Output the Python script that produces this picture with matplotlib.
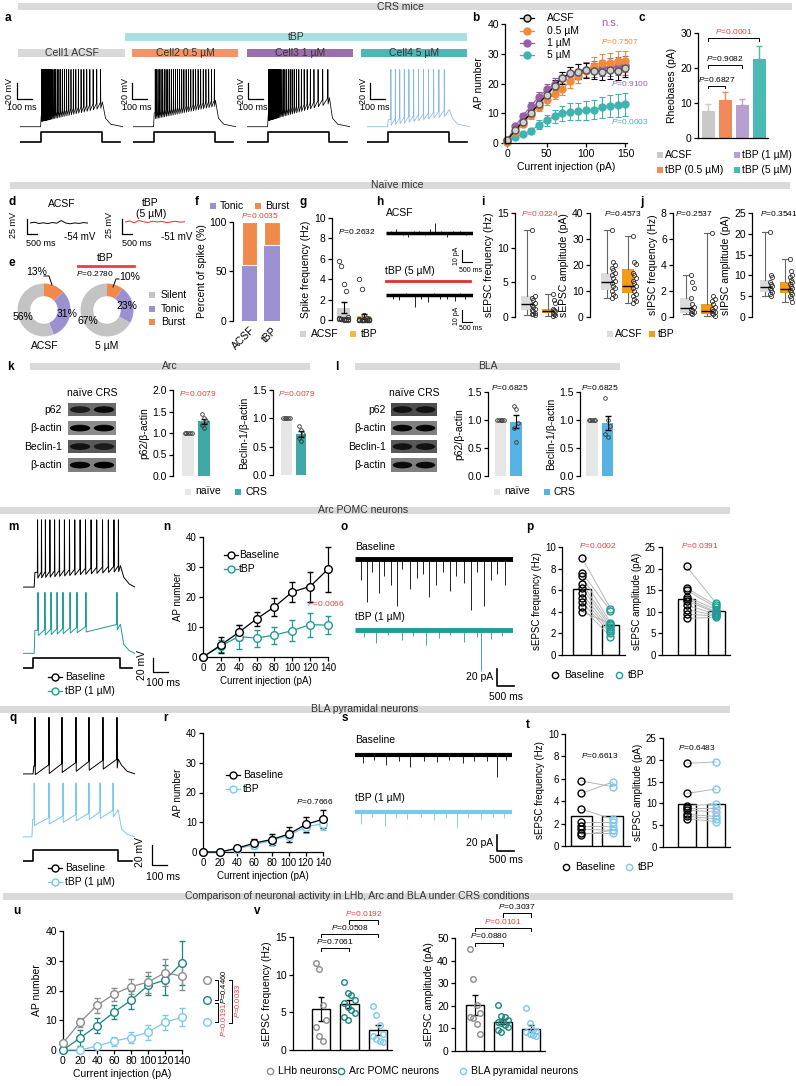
import numpy as np
import matplotlib
matplotlib.use('Agg')
import matplotlib.pyplot as plt
from matplotlib.patches import Rectangle, Ellipse

plt.rcParams['font.family'] = ['Liberation Sans', 'DejaVu Sans']
plt.rcParams['font.size'] = 7
plt.rcParams['mathtext.fontset'] = 'custom'
plt.rcParams['mathtext.rm'] = 'Liberation Sans'
plt.rcParams['mathtext.it'] = 'Liberation Sans:italic'
plt.rcParams['mathtext.bf'] = 'Liberation Sans:bold'
plt.rcParams['axes.linewidth'] = 0.9
plt.rcParams['axes.spines.top'] = False
plt.rcParams['axes.spines.right'] = False
for k in ['xtick', 'ytick']:
    plt.rcParams[k + '.major.size'] = 3
    plt.rcParams[k + '.major.width'] = 0.9
    plt.rcParams[k + '.major.pad'] = 1.5
plt.rcParams['axes.labelpad'] = 2

RED = '#e8403f'
ARC = '#1f9c96'
BLA = '#79c9ec'
LHB = '#8c8c8c'
NAIVE = '#e6e6e6'

# ---- a: example firing (spike times in ms, step 200-800 ms)
a_labels = ['Cell1 ACSF', 'Cell2 0.5 µM', 'Cell3 1 µM', 'Cell4 5 µM']
a_spikes = [
    [210, 217, 224, 231, 238, 245, 253, 261, 269, 278, 287, 297, 308, 320, 333, 347, 362, 378, 395,
     413, 432, 452, 473, 495, 518, 542, 567, 593, 620, 648, 678, 710, 745, 782],
    [216, 229, 243, 257, 272, 288, 304, 321, 338, 356, 374, 393, 412, 432, 452, 473, 494, 516, 538,
     561, 584, 608, 632, 657, 682, 708, 735, 762, 790],
    [210, 215, 220, 226, 232, 238, 245, 252, 259, 267, 275, 284, 293, 303, 314, 326, 339, 353, 368,
     384, 401, 419, 438, 458, 480, 503, 528, 555, 584, 615, 650, 690, 735, 785],
    [232, 275, 318, 362, 407, 453, 500, 548, 597, 647, 698, 750],
]
a_plateau = [(-54, -38), (-51, -36), (-53, -33), (-59, -47)]

# ---- b: input-output curves
b_current = [0, 10, 20, 30, 40, 50, 60, 70, 80, 90, 100, 110, 120, 130, 140, 150]
b_acsf = [1.0, 4.3, 7.2, 10.0, 13.2, 16.2, 19.2, 22.0, 23.5, 24.0, 24.5, 24.2, 24.0, 24.5, 24.2, 25.3]
b_acsf_err = [0.3, 0.8, 1.0, 1.2, 1.5, 1.8, 2.0, 2.0, 2.2, 2.5, 2.5, 2.6, 2.8, 3.0, 3.0, 3.0]
b_05 = [0.5, 3.6, 6.5, 9.4, 12.2, 14.5, 16.5, 18.2, 20.8, 22.5, 24.3, 26.0, 27.0, 27.0, 27.5, 27.5]
b_05_err = [0.3, 0.8, 1.0, 1.2, 1.5, 1.6, 1.8, 2.0, 2.2, 2.4, 2.6, 2.8, 3.0, 3.2, 3.4, 3.5]
b_1 = [1.0, 5.6, 9.2, 12.5, 15.5, 18.0, 19.8, 22.0, 23.2, 24.0, 24.6, 24.8, 25.2, 25.6, 25.8, 26.2]
b_1_err = [0.3, 0.8, 1.0, 1.3, 1.5, 1.7, 1.9, 2.0, 2.2, 2.4, 2.5, 2.7, 2.8, 3.0, 3.1, 3.2]
b_5 = [0.5, 2.0, 3.0, 4.0, 6.2, 7.6, 9.0, 10.0, 10.5, 10.6, 11.0, 11.2, 12.0, 12.5, 12.7, 13.0]
b_5_err = [0.3, 0.5, 0.8, 1.0, 1.4, 1.8, 2.2, 2.6, 2.8, 3.0, 3.2, 3.3, 3.5, 3.6, 3.8, 3.9]

# ---- c: rheobase
c_groups = ['ACSF', 'tBP (0.5 µM)', 'tBP (1 µM)', 'tBP (5 µM)']
c_mean = [7.8, 10.8, 9.5, 22.5]
c_err = [1.9, 2.3, 1.7, 3.7]

# ---- d: resting potential traces (mV)
d_acsf_v = [-54.0, -53.2, -54.5, -53.8, -54.6, -53.5, -54.2, -51.5, -54.0, -54.8, -53.9, -54.4, -53.6, -54.1]
d_tbp_v = [-51.0, -50.0, -51.8, -49.5, -50.8, -51.5, -50.2, -51.0, -50.4, -51.6, -50.9, -50.3, -51.2, -50.7]

# ---- e / f: firing pattern
e_types = ['Burst', 'Tonic', 'Silent']
e_acsf = [13, 31, 56]
e_tbp = [10, 23, 67]
f_tonic = [57, 77]
f_burst = [43, 23]

# ---- g: spontaneous spike frequency (Hz)
g_acsf = [5.8, 5.3, 3.5, 2.8, 0.3, 0.2, 0.1, 0.1, 0.1, 0.05, 0.05, 0.05, 0.0, 0.0, 0.0]
g_tbp = [4.0, 3.0, 0.5, 0.2, 0.1, 0.05, 0, 0, 0, 0, 0, 0, 0, 0, 0, 0, 0, 0, 0, 0, 0, 0]

# ---- h / o / s: current traces, event time (0-1000) and amplitude (pA)
h_acsf_t = [60, 120, 190, 250, 320, 380, 450, 500, 560, 630, 700, 770, 850, 920]
h_acsf_a = [2, 3, -2, -3, 2, 2, -2, 3, 8, 2, -3, 2, 2, -2]
h_tbp_t = [80, 150, 230, 330, 400, 480, 550, 620, 700, 790, 850, 910]
h_tbp_a = [-3, -4, 2, -10, -3, -6, 2, -3, -3, -5, 2, -3]
o_base_t = [40, 75, 110, 150, 185, 230, 265, 300, 345, 390, 430, 470, 510, 560, 600, 640, 690, 735, 770, 815, 860, 900, 950]
o_base_a = [-25, -50, -15, -40, -20, -30, -55, -12, -35, -22, -18, -45, -30, -15, -38, -20, -28, -60, -15, -55, -25, -18, -30]
o_tbp_t = [60, 130, 210, 300, 370, 450, 530, 600, 690, 770, 797, 860, 930]
o_tbp_a = [-8, -15, -6, -12, -7, -18, -9, -6, -14, -8, -48, -10, -7]
s_base_t = [50, 120, 200, 280, 350, 440, 520, 600, 690, 760, 840, 904, 960]
s_base_a = [-10, -6, -12, -7, -15, -8, -9, -6, -10, -7, -8, -28, -6]
s_tbp_t = [40, 110, 190, 260, 330, 420, 500, 580, 650, 720, 800, 880, 950]
s_tbp_a = [-15, -6, -18, -7, -9, -6, -10, -8, -20, -7, -9, -6, -8]

# ---- i / j: box plots [median, q1, q3, min, max]
i_freq_stats = [[1.9, 1.0, 3.0, 0.3, 12.5], [0.9, 0.6, 1.2, 0.2, 3.3]]
i_freq_pts = [[12.5, 5.8, 3.0, 2.8, 2.5, 2.0, 1.8, 1.5, 1.2, 1.0, 0.8, 0.6, 0.5, 0.4, 0.3],
              [3.3, 2.5, 2.0, 1.2, 1.0, 0.8, 0.6, 0.5, 0.3, 0.2]]
i_amp_stats = [[13.5, 10.5, 17.0, 7.5, 33.5], [12.0, 9.2, 18.5, 5.5, 31.0]]
i_amp_pts = [[33.5, 21, 20, 19, 18, 17, 16, 15, 14, 13, 12, 11, 10, 9, 8, 7.5],
             [31, 21, 20.5, 17, 16, 15, 14, 13, 12, 11, 10, 9, 8, 7, 6, 5.5]]
j_freq_stats = [[0.7, 0.3, 1.5, 0.2, 3.2], [0.5, 0.2, 1.0, 0.1, 6.5]]
j_freq_pts = [[3.2, 2.7, 2.2, 1.5, 1.0, 0.8, 0.6, 0.5, 0.4, 0.3, 0.2],
              [6.5, 1.6, 1.4, 1.2, 1.0, 0.8, 0.6, 0.5, 0.4, 0.3, 0.2, 0.1]]
j_amp_stats = [[7.3, 6.0, 9.0, 5.0, 20.5], [6.8, 5.8, 8.5, 3.5, 14.0]]
j_amp_pts = [[20.5, 10, 9.5, 8.5, 8, 7.5, 7, 6.5, 6, 5.5, 5],
             [14, 11, 10, 9.5, 9, 8.5, 8, 7.5, 7, 6.5, 6, 5.5, 5, 4.5, 3.5]]

# ---- k / l: western blots
blot_rows = ['p62', 'β-actin', 'Beclin-1', 'β-actin']
k_bands = [[0.75, 0.9], [0.95, 0.95], [0.85, 0.75], [0.95, 1.0]]
k_bg = [0.42, 0.55, 0.35, 0.5]
l_bands = [[0.85, 0.85], [0.95, 0.95], [0.85, 0.85], [0.9, 0.9]]
l_bg = [0.3, 0.5, 0.35, 0.5]
k_p62 = [[1.0] * 5, [1.45, 1.35, 1.28, 1.18, 1.12]]
k_beclin = [[1.0] * 5, [0.86, 0.80, 0.72, 0.65, 0.60]]
l_p62 = [[1.0] * 5, [1.25, 1.2, 0.95, 0.85, 0.6]]
l_beclin = [[1.0] * 5, [1.4, 1.0, 0.9, 0.75, 0.7]]

# ---- m / n: Arc POMC neurons
m_base_spikes = [130, 165, 200, 240, 282, 325, 370, 415, 462, 510, 558, 608, 658, 710, 762, 812, 852]
m_tbp_spikes = [134, 196, 250, 304, 357, 420, 482, 562, 839]
iv_current = [0, 20, 40, 60, 80, 100, 120, 140]
n_base = [0, 4.0, 8.2, 12.7, 16.7, 21.7, 23.5, 29.3]
n_base_err = [0, 2.8, 2.5, 2.3, 3.0, 3.3, 5.0, 7.5]
n_tbp = [0, 3.7, 6.8, 6.3, 7.3, 8.8, 10.8, 10.6]
n_tbp_err = [0, 2.0, 4.0, 2.8, 2.8, 3.5, 4.0, 3.0]

# ---- p: Arc sEPSC paired
p_freq_base = [9.0, 7.6, 7.3, 6.6, 6.2, 5.7, 5.3, 4.9, 4.4, 4.0]
p_freq_tbp = [4.3, 4.1, 3.0, 2.8, 2.6, 2.4, 2.2, 2.0, 1.7, 2.9]
p_amp_base = [20.5, 15.5, 15.0, 13.5, 13.0, 12.5, 11.5, 10.5, 9.5, 8.5]
p_amp_tbp = [12.0, 11.5, 11.0, 10.5, 10.0, 9.8, 9.5, 9.2, 9.0, 8.7]

# ---- q / r / t: BLA pyramidal neurons
q_base_spikes = [107, 232, 348, 473, 589, 714, 839]
q_tbp_spikes = [100, 232, 357, 473, 589, 688, 804]
r_base = [0, 0, 1.3, 3.0, 4.2, 6.0, 9.3, 11.0]
r_base_err = [0, 0, 0.6, 1.5, 2.0, 2.5, 2.5, 3.0]
r_tbp = [0, 0, 1.0, 2.5, 3.8, 5.5, 8.5, 9.5]
r_tbp_err = [0, 0, 0.5, 1.2, 1.5, 2.0, 2.0, 2.0]
t_freq_base = [5.8, 4.7, 3.3, 2.1, 1.8, 1.5, 1.2, 1.0]
t_freq_tbp = [5.3, 5.7, 2.4, 2.1, 1.8, 1.4, 1.2, 1.4]
t_amp_base = [19.2, 12.3, 9.5, 9.0, 8.5, 7.5, 7.0, 6.5]
t_amp_tbp = [19.5, 13.3, 9.8, 9.0, 8.0, 7.0, 6.5, 5.8]

# ---- u / v: comparison
u_lhb = [2.3, 9.3, 15.0, 18.8, 21.3, 22.8, 26.0, 24.8]
u_lhb_err = [0.5, 1.5, 2.5, 2.2, 2.5, 3.5, 4.5, 4.5]
v_lhb_freq = [11.5, 10.8, 6.0, 4.0, 3.0, 1.8, 1.2]
v_lhb_amp = [45, 32, 20.5, 17, 15, 14.5, 12, 7.5]

W, H = 796, 1086
fig = plt.figure(figsize=(W / 100, H / 100), dpi=100)


def px_axes(x0, y0, x1, y1):
    ax = fig.add_axes([x0 / W, 1 - y1 / H, (x1 - x0) / W, (y1 - y0) / H])
    ax.patch.set_alpha(0)
    return ax


ov = px_axes(0, 0, W, H)
ov.set_xlim(0, W)
ov.set_ylim(H, 0)
ov.axis('off')
ov.set_zorder(10)


def txt(x, y, s, **kw):
    kw.setdefault('ha', 'center')
    kw.setdefault('va', 'center')
    ov.text(x, y, s, **kw)


def pval(ax, x, y, s, color='k', fs=6, **kw):
    kw.setdefault('ha', 'center')
    kw.setdefault('va', 'center')
    ax.text(x, y, r'$P$=' + s, color=color, fontsize=fs, **kw)


def square(x, y, color, size=5.5):
    ov.add_patch(Rectangle((x - size / 2, y - size / 2), size, size, color=color, lw=0))


def circle(x, y, color, ms=4.5):
    ov.plot([x], [y], 'o', mfc='none', mec=color, ms=ms, mew=1)


def line_marker(x, y, color, fill='white'):
    ov.plot([x - 7, x + 7], [y, y], color=color, lw=0.9)
    ov.plot([x], [y], 'o', mfc=fill, mec=color, ms=5, mew=1)


def trace_axes(x0, y0, x1, y1, ylim):
    ax = px_axes(x0, y0, x1, y1)
    ax.set_xlim(0, 1000)
    ax.set_ylim(*ylim)
    ax.axis('off')
    return ax


def spike_trace(spikes, rest, plat, ahp, t_on, t_off, t_end=1000, peak=0):
    t = [0, t_on, t_on + 6]
    v = [rest, rest, plat[0]]
    for s in spikes:
        base = plat[0] + (plat[1] - plat[0]) * (s - t_on) / (t_off - t_on)
        t += [s - 1.5, s, s + 2.5]
        v += [base, peak, base - ahp]
    t += [t_off, t_off + 30, t_off + 80, t_end]
    v += [plat[1], rest + 10, rest + 3, rest]
    return t, v


def stim(x0, y0, x1, y1, t_on, t_off, t_end=970):
    ax = trace_axes(x0, y0, x1, y1, (-0.25, 1.15))
    ax.plot([0, t_on, t_on, t_off, t_off, t_end], [0, 0, 1, 1, 0, 0], 'k', lw=1.2)


def noise(x0, x1, yc, px_per, ev_t, ev_a, color, lw=3.5, up=8, down=62):
    ax = px_axes(x0, yc - up, x1, yc + down)
    ax.set_xlim(0, 1000)
    ax.set_ylim(-down / px_per, up / px_per)
    ax.axis('off')
    ax.plot([0, 1000], [0, 0], color=color, lw=lw, solid_capstyle='butt')
    ax.vlines(ev_t, 0, ev_a, color=color, lw=0.6)


def scalebar(x, y_top, y_bot, x_end, lw=0.9):
    ov.plot([x, x, x_end], [y_top, y_bot, y_bot], 'k', lw=lw)


def bracket(ax, x1, x2, y, h, label, color='k', fs=6):
    ax.plot([x1, x1, x2, x2], [y - h, y, y, y - h], color='k', lw=0.7, clip_on=False)
    pval(ax, (x1 + x2) / 2, y + h * 0.6, label, color=color, fs=fs, va='bottom')


def hide_bottom(ax):
    ax.spines['bottom'].set_visible(False)
    ax.tick_params(axis='x', length=0)
    ax.set_xticks([])


# ---------------- section headers ----------------
headers = [('CRS mice', 18, 792, 6.5, 400), ('Naïve mice', 10, 790, 185.5, 397),
           ('Arc', 30, 310, 366, 170), ('BLA', 355, 620, 366, 488),
           ('Arc POMC neurons', 0, 730, 510, 363), ('BLA pyramidal neurons', 0, 730, 709, 365),
           ('Comparison of neuronal activity in LHb, Arc and BLA under CRS conditions', 3, 733, 896, 357)]
for name, x0, x1, yc, xt in headers:
    ov.add_patch(Rectangle((x0, yc - 3.5), x1 - x0, 7, color='#dadada', lw=0))
    txt(xt, yc, name, fontsize=7.5, color='#333333')

for lab, x, y in [('a', 8, 18), ('b', 476, 18), ('c', 642, 18), ('d', 12, 202), ('e', 12, 263),
                  ('f', 197, 202), ('g', 303, 202), ('h', 380, 202), ('i', 483, 202), ('j', 642, 202),
                  ('k', 10, 367), ('l', 337, 367), ('m', 13, 527), ('n', 167, 527), ('o', 344, 527),
                  ('p', 530, 527), ('q', 13, 718), ('r', 165, 718), ('s', 345, 718), ('t', 528, 725),
                  ('u', 17, 911), ('v', 257, 911)]:
    txt(x, y, lab, fontsize=8.5, fontweight='bold')

# ---------------- a ----------------
ov.add_patch(Rectangle((125, 33), 342, 8, color='#a8dfe0', lw=0))
txt(296, 37, 'tBP', fontsize=7.5, color='#333333')
a_bar_x = [(18, 125), (132, 238), (247, 353), (361, 467)]
a_bar_c = ['#d9d9d9', '#f0956a', '#9b70aa', '#50b6b6']
a_trace_c = ['k', 'k', 'k', '#86b8e6']
a_trace_x = [20, 133, 247, 367]
a_scale_x = [17, 132, 248, 370]
for i in range(4):
    x0, x1 = a_bar_x[i]
    ov.add_patch(Rectangle((x0, 49), x1 - x0, 8, color=a_bar_c[i], lw=0))
    txt((x0 + x1) / 2, 53, a_labels[i], fontsize=7.5, color='#333333')
    tx = a_trace_x[i]
    ax = trace_axes(tx, 66, tx + 103, 131, (-72, 4))
    t, v = spike_trace(a_spikes[i], -67, a_plateau[i], 7, 200, 800)
    ax.plot(t, v, color=a_trace_c[i], lw=0.55)
    stim(tx, 131, tx + 103, 145, 200, 800)
    sx = a_scale_x[i]
    scalebar(sx, 83, 99, sx + 15)
    txt(sx - 7, 91, '20 mV', rotation=90, fontsize=6.5)
    txt(sx + 5, 108, '100 ms', fontsize=6.5)

# ---------------- b ----------------
ax = px_axes(505, 24, 627, 143)
b_series = [(b_5, b_5_err, '#3fb3ad', '#3fb3ad'), (b_1, b_1_err, '#9a5fa6', '#9a5fa6'),
            (b_05, b_05_err, '#f08a3c', '#f08a3c'), (b_acsf, b_acsf_err, 'k', '#d0d0d0')]
for y, e, c, fc in b_series:
    ax.errorbar(b_current, y, yerr=e, color=c, marker='o', ms=5, mfc=fc, mec=c if c != 'k' else '#555555',
                lw=0.9, capsize=2, elinewidth=0.8, capthick=0.8, clip_on=False)
ax.set_xlim(-3, 152)
ax.set_ylim(0, 40)
ax.set_xticks([0, 50, 100, 150])
ax.set_yticks([0, 10, 20, 30, 40])
ax.tick_params(labelsize=7.5)
ax.set_xlabel('Current injection (pA)', fontsize=7.5)
ax.set_ylabel('AP number', fontsize=7.5)
for lab, y, c, fc in [('ACSF', 18, 'k', '#d0d0d0'), ('0.5 µM', 31, '#f08a3c', '#f08a3c'),
                      ('1 µM', 43, '#9a5fa6', '#9a5fa6'), ('5 µM', 55, '#3fb3ad', '#3fb3ad')]:
    line_marker(527, y, c, fc)
    txt(547, y, lab, fontsize=7.5, ha='left')
txt(610, 23, 'n.s.', fontsize=8, color='#9a5fa6')
pval(ov, 620, 41, '0.7507', color='#f08a3c')
pval(ov, 630, 83, '0.9100', color='#9a5fa6')
pval(ov, 630, 122, '0.0003', color='#3fb3ad')

# ---------------- c ----------------
ax = px_axes(698, 33, 768, 138)
c_colors = ['#c9c9c9', '#f08a5a', '#b79fd0', '#4bbab5']
ax.bar(range(4), c_mean, width=0.75, color=c_colors)
for i in range(4):
    ax.errorbar([i], [c_mean[i]], yerr=[[0], [c_err[i]]], color=c_colors[i], capsize=2.5, lw=1, capthick=1)
ax.set_xlim(-0.6, 3.5)
ax.set_ylim(0, 30)
ax.set_yticks([0, 10, 20, 30])
ax.set_xticks([])
ax.tick_params(labelsize=7.5)
ax.set_ylabel('Rheobases (pA)', fontsize=7.5)
bracket(ax, 0, 1, 15.0, 0.8, '0.6827')
bracket(ax, 0, 2, 20.9, 0.8, '0.9082')
bracket(ax, 0, 3, 28.6, 0.8, '0.0001', color=RED)
for lab, x, y, c in [(c_groups[0], 660, 155, c_colors[0]), (c_groups[2], 737, 155, c_colors[2]),
                     (c_groups[1], 660, 170, c_colors[1]), (c_groups[3], 737, 170, c_colors[3])]:
    square(x, y, c)
    txt(x + 5, y, lab, fontsize=7.5, ha='left')

# ---------------- d ----------------
txt(62, 204, 'ACSF', fontsize=7.5)
ax = px_axes(30, 216, 88, 230)
ax.plot(np.linspace(0, 1, len(d_acsf_v)), d_acsf_v, color='k', lw=0.7)
ax.set_xlim(0, 1); ax.set_ylim(-61, -47); ax.axis('off')
scalebar(27, 219, 234, 37)
txt(13, 225, '25 mV', rotation=90, fontsize=6.5)
txt(41, 243, '500 ms', fontsize=6.5)
txt(80, 237, '-54 mV', fontsize=7)
txt(150, 203, 'tBP', fontsize=7.5)
txt(151, 214, '(5 µM)', fontsize=7.5)
ax = px_axes(125, 215, 185, 229)
ax.plot(np.linspace(0, 1, len(d_tbp_v)), d_tbp_v, color='#e0302a', lw=0.7)
ax.set_xlim(0, 1); ax.set_ylim(-58, -44); ax.axis('off')
scalebar(122, 219, 234, 132)
txt(110, 225, '25 mV', rotation=90, fontsize=6.5)
txt(137, 243, '500 ms', fontsize=6.5)
txt(177, 237, '-51 mV', fontsize=7)

# ---------------- e ----------------
e_colors = ['#f08a4b', '#9c90d0', '#c3c3c3']
for vals, cx in [(e_acsf, 44), (e_tbp, 107)]:
    ax = px_axes(cx - 27, 283, cx + 27, 337)
    ax.pie(vals, colors=e_colors, startangle=90, counterclock=False, radius=1,
           wedgeprops=dict(width=0.48, edgecolor='none'))
    ax.set_xlim(-1.02, 1.02); ax.set_ylim(-1.02, 1.02)
txt(37, 272, '13%', fontsize=7.5)
ov.plot([44, 49, 52], [276, 276, 285], 'k', lw=0.7)
txt(130, 277, '10%', fontsize=7.5)
ov.plot([119, 116, 113], [279, 279, 287], 'k', lw=0.7)
txt(23, 317, '56%', fontsize=7.5)
txt(67, 314, '31%', fontsize=7.5)
txt(88, 321, '67%', fontsize=7.5)
txt(127, 306, '23%', fontsize=7.5)
txt(45, 346, 'ACSF', fontsize=7.5)
txt(107, 346, '5 µM', fontsize=7.5)
txt(105, 258, 'tBP', fontsize=7.5)
ov.plot([78, 134], [266, 266], color=RED, lw=2)
pval(ov, 95, 273, '0.2780')
for lab, y, c in zip(['Silent', 'Tonic', 'Burst'], [295, 309, 322], ['#c3c3c3', '#9c90d0', '#f08a4b']):
    square(152, y, c)
    txt(161, y, lab, fontsize=7.5, ha='left')

# ---------------- f ----------------
ax = px_axes(233, 222, 283, 321)
ax.bar([0, 1], f_tonic, width=0.67, color='#9c90d0')
ax.bar([0, 1], f_burst, bottom=f_tonic, width=0.67, color='#f08a4b', edgecolor='white', lw=0.8)
ax.set_xlim(-0.73, 1.49)
ax.set_ylim(0, 100)
ax.set_yticks([0, 50, 100])
ax.set_xticks([0, 1])
ax.set_xticklabels(['ACSF', 'tBP'], rotation=45, ha='right', rotation_mode='anchor', fontsize=7.5)
ax.spines['bottom'].set_visible(False)
ax.tick_params(axis='x', length=0, pad=3)
ax.tick_params(axis='y', labelsize=7.5)
ax.set_ylabel('Percent of spike (%)', fontsize=7.5)
square(213, 206, '#9c90d0')
txt(220, 206, 'Tonic', fontsize=7.5, ha='left')
square(258, 206, '#f08a4b')
txt(265, 206, 'Burst', fontsize=7.5, ha='left')
pval(ov, 260, 216, '0.0035', color=RED)

# ---------------- g ----------------
ax = px_axes(332, 218, 377, 320)
g_sets = [g_acsf, g_tbp]
means = [np.mean(v) for v in g_sets]
sems = [np.std(v, ddof=1) / np.sqrt(len(v)) for v in g_sets]
ax.bar([0, 1], means, width=0.65, color=['#d3d3d3', '#f5b843'])
ax.errorbar([0, 1], means, yerr=sems, fmt='none', ecolor='k', capsize=2, lw=0.8)
for i, v in enumerate(g_sets):
    xs = i + ((np.arange(len(v)) % 5) - 2) * 0.12
    ax.plot(xs, v, 'o', mfc='none', mec='#333333', ms=3.2, mew=0.6, clip_on=False)
ax.set_xlim(-0.56, 1.63)
ax.set_ylim(0, 10)
ax.set_yticks([0, 2, 4, 6, 8, 10])
ax.tick_params(labelsize=7.5)
hide_bottom(ax)
ax.set_ylabel('Spike frequency (Hz)', fontsize=7.5)
pval(ov, 357, 232, '0.2632')
square(303, 334, '#d3d3d3')
txt(311, 334, 'ACSF', fontsize=7.5, ha='left')
square(353, 334, '#f5b843')
txt(361, 334, 'tBP', fontsize=7.5, ha='left')

# ---------------- h ----------------
txt(386, 213, 'ACSF', fontsize=7.5, ha='left')
noise(386, 473, 233, 1.2, h_acsf_t, h_acsf_a, 'k', lw=2.5, up=12, down=14)
scalebar(462, 250, 262, 472, lw=0.8)
txt(457, 256, '10 pA', rotation=90, fontsize=5)
txt(471, 270, '500 ms', fontsize=5)
txt(385, 271, 'tBP (5 µM)', fontsize=7.5, ha='left')
ov.plot([386, 470], [281, 281], color='#e0302a', lw=2)
noise(386, 473, 295, 1.2, h_tbp_t, h_tbp_a, 'k', lw=2.5, up=8, down=14)
scalebar(462, 310, 322, 472, lw=0.8)
txt(457, 316, '10 pA', rotation=90, fontsize=5)
txt(471, 329, '500 ms', fontsize=5)


# ---------------- i / j ----------------
def box_panel(box, xlim, ylim, yticks, ylabel, stats, pts):
    ax = px_axes(*box)
    bx = [dict(med=s[0], q1=s[1], q3=s[2], whislo=s[3], whishi=s[4]) for s in stats]
    art = ax.bxp(bx, positions=[0, 1], widths=0.55, patch_artist=True, showfliers=False,
                 medianprops=dict(color='k', lw=1), whiskerprops=dict(color='#666666', lw=0.8),
                 capprops=dict(color='#666666', lw=0.8), boxprops=dict(lw=0))
    for patch, c in zip(art['boxes'], ['#dcdcdc', '#f29b1d']):
        patch.set_facecolor(c)
    for i, p in enumerate(pts):
        xs = i + 0.3 + ((np.arange(len(p)) % 3) - 1) * 0.06
        ax.plot(xs, p, 'o', mfc='none', mec='#333333', ms=3, mew=0.6, clip_on=False)
    ax.set_xlim(*xlim)
    ax.set_ylim(*ylim)
    ax.set_yticks(yticks)
    ax.tick_params(labelsize=7.5)
    hide_bottom(ax)
    ax.set_ylabel(ylabel, fontsize=7.5)
    return ax


box_panel((515, 213, 558, 317), (-0.57, 1.48), (0, 15), [0, 5, 10, 15], 'sEPSC frequency (Hz)', i_freq_stats, i_freq_pts)
box_panel((590, 213, 640, 317), (-0.81, 1.57), (0, 40), [0, 10, 20, 30, 40], 'sEPSC amplitude (pA)', i_amp_stats, i_amp_pts)
box_panel((673, 213, 720, 317), (-0.62, 1.62), (0, 8), [0, 2, 4, 6, 8], 'sIPSC frequency (Hz)', j_freq_stats, j_freq_pts)
box_panel((752, 213, 796, 317), (-0.65, 1.55), (0, 25), [0, 5, 10, 15, 20, 25], 'sIPSC amplitude (pA)', j_amp_stats, j_amp_pts)
pval(ov, 540, 214, '0.0224', color=RED)
pval(ov, 623, 214, '0.4573')
pval(ov, 694, 214, '0.2537')
pval(ov, 779, 214, '0.3541')
square(610, 334, '#dcdcdc')
txt(615, 334, 'ACSF', fontsize=7.5, ha='left')
square(652, 334, '#f29b1d')
txt(658, 334, 'tBP', fontsize=7.5, ha='left')


# ---------------- k / l ----------------
def draw_blot(box, bands, bg, label_x):
    ax = px_axes(*box)
    ax.set_xlim(0, 2)
    ax.set_ylim(4, 0)
    ax.axis('off')
    for r in range(4):
        ax.add_patch(Rectangle((0, r + 0.05), 2, 0.72, color=str(bg[r]), lw=0))
        for lane in range(2):
            g = round(0.45 * (1 - bands[r][lane]), 2)
            ax.add_patch(Ellipse((lane + 0.5, r + 0.41), 0.85, 0.36, color=str(g), lw=0))
        txt(label_x, box[1] + (r + 0.41) * (box[3] - box[1]) / 4, blot_rows[r], fontsize=7.5, ha='right')
    txt((box[0] + box[2]) / 2, 393, 'naïve CRS', fontsize=7.5)


def wb_bars(box, xlim, ylim, yticks, ylabel, groups, crs_color):
    ax = px_axes(*box)
    means = [np.mean(v) for v in groups]
    sem = np.std(groups[1], ddof=1) / np.sqrt(len(groups[1]))
    ax.bar([0, 1], means, width=0.75, color=[NAIVE, crs_color])
    ax.errorbar([1], [means[1]], yerr=[sem], color='k', capsize=2, lw=0.8)
    for i, v in enumerate(groups):
        if i == 0:
            xs = np.linspace(-0.22, 0.22, len(v))
        else:
            xs = 1 + ((np.arange(len(v)) % 3) - 1) * 0.14
        ax.plot(xs, v, 'o', mfc='none', mec='#333333', ms=2.6, mew=0.6, clip_on=False)
    ax.set_xlim(*xlim)
    ax.set_ylim(*ylim)
    ax.set_yticks(yticks)
    ax.set_yticklabels(['%.1f' % y for y in yticks])
    ax.tick_params(labelsize=7.5)
    hide_bottom(ax)
    ax.set_ylabel(ylabel, fontsize=7.5)


draw_blot((68, 402, 116, 476), k_bands, k_bg, 62)
draw_blot((391, 402, 437, 476), l_bands, l_bg, 386)
K_CRS = '#3ea9a6'
L_CRS = '#55b4e4'
wb_bars((173, 390, 212, 476), (-0.94, 1.5), (0, 2), [0, 0.5, 1.0, 1.5, 2.0], 'p62/β-actin', k_p62, K_CRS)
wb_bars((273, 390, 310, 475), (-0.93, 1.62), (0, 1.5), [0, 0.5, 1.0, 1.5], 'Beclin-1/β-actin', k_beclin, K_CRS)
wb_bars((488, 392, 525, 476), (-0.81, 1.58), (0, 1.5), [0, 0.5, 1.0, 1.5], 'p62/β-actin', l_p62, L_CRS)
wb_bars((580, 392, 615, 476), (-0.77, 1.48), (0, 1.5), [0, 0.5, 1.0, 1.5], 'Beclin-1/β-actin', l_beclin, L_CRS)
pval(ov, 198, 393, '0.0079', color=RED)
pval(ov, 297, 393, '0.0079', color=RED)
pval(ov, 510, 387, '0.6825')
pval(ov, 600, 387, '0.6825')
for x0, c in [(188, K_CRS), (497, L_CRS)]:
    square(x0, 492, NAIVE)
    txt(x0 + 7, 491, 'naïve', fontsize=7.5, ha='left')
    square(x0 + 50, 492, c)
    txt(x0 + 57, 492, 'CRS', fontsize=7.5, ha='left')

# ---------------- m ----------------
ax = trace_axes(23, 515, 135, 590, (-72, 5))
t, v = spike_trace(m_base_spikes, -69, (-54, -47), 6, 100, 870)
ax.plot(t, v, color='k', lw=0.7)
ax = trace_axes(23, 588, 135, 656, (-72, 5))
t, v = spike_trace(m_tbp_spikes, -69, (-43, -36), 6, 100, 870)
ax.plot(t, v, color=ARC, lw=0.7)
stim(23, 656, 135, 670, 90, 870)
scalebar(153, 658, 672, 168)
txt(142, 665, '20 mV', rotation=90, fontsize=7.5)
txt(163, 683, '100 ms', fontsize=7.5)
line_marker(55, 677, 'k')
txt(65, 677, 'Baseline', fontsize=7.5, ha='left')
line_marker(55, 691, ARC)
txt(65, 691, 'tBP (1 µM)', fontsize=7.5, ha='left')


# ---------------- n / r / u ----------------
def iv_axes(box, series, fs=7):
    ax = px_axes(*box)
    for y, e, c in series:
        ax.errorbar(iv_current, y, yerr=e, color=c, marker='o', ms=5.5, mfc='white', mec=c, mew=1,
                    lw=0.9, capsize=2.5, elinewidth=0.9, capthick=0.9, clip_on=False, zorder=3)
    ax.set_xlim(0, 140)
    ax.set_ylim(0, 40)
    ax.set_xticks(iv_current)
    ax.set_yticks([0, 10, 20, 30, 40])
    ax.tick_params(labelsize=fs)
    ax.set_xlabel('Current injection (pA)', fontsize=fs)
    ax.set_ylabel('AP number', fontsize=fs)
    return ax


iv_axes((203, 537, 328, 657), [(n_tbp, n_tbp_err, ARC), (n_base, n_base_err, 'k')])
line_marker(231, 555, 'k')
txt(239, 555, 'Baseline', fontsize=7.5, ha='left')
line_marker(231, 569, ARC)
txt(239, 569, 'tBP', fontsize=7.5, ha='left')
pval(ov, 326, 604, '0.0066', color=RED)

# ---------------- o ----------------
txt(355, 547, 'Baseline', fontsize=7.5, ha='left')
noise(355, 513, 559, 0.85, o_base_t, o_base_a, 'k')
txt(355, 617, 'tBP (1 µM)', fontsize=7.5, ha='left')
noise(355, 513, 630, 0.85, o_tbp_t, o_tbp_a, ARC)
scalebar(497, 669, 686, 514, lw=1.2)
txt(493, 677, '20 pA', fontsize=7.5, ha='right')
txt(506, 697, '500 ms', fontsize=7.5)


# ---------------- p / t ----------------
def paired(box, xlim, width, ylim, yticks, ylabel, base, tbp, tcolor):
    ax = px_axes(*box)
    ax.bar([0, 1], [np.mean(base), np.mean(tbp)], width=width, color='white', edgecolor='k', lw=1)
    for b, t in zip(base, tbp):
        ax.plot([0, 1], [b, t], color='#b5b5b5', lw=0.7)
    ax.plot(np.zeros(len(base)), base, 'o', mfc='none', mec='k', ms=5, mew=1, clip_on=False)
    ax.plot(np.ones(len(tbp)), tbp, 'o', mfc='none', mec=tcolor, ms=5, mew=1, clip_on=False)
    ax.set_xlim(*xlim)
    ax.set_ylim(*ylim)
    ax.set_yticks(yticks)
    ax.set_xticks([])
    ax.tick_params(labelsize=7)
    ax.set_ylabel(ylabel, fontsize=7)


paired((562, 547, 625, 655), (-0.7, 1.51), 0.6, (0, 10), [0, 2, 4, 6, 8, 10], 'sEPSC frequency (Hz)', p_freq_base, p_freq_tbp, ARC)
paired((662, 547, 730, 655), (-0.83, 1.47), 0.58, (0, 25), [0, 5, 10, 15, 20, 25], 'sEPSC amplitude (pA)', p_amp_base, p_amp_tbp, ARC)
pval(ov, 598, 546, '0.0002', color=RED)
pval(ov, 700, 546, '0.0391', color=RED)
circle(555, 675, 'k')
txt(564, 675, 'Baseline', fontsize=7.5, ha='left')
circle(619, 675, ARC)
txt(628, 675, 'tBP', fontsize=7.5, ha='left')

paired((565, 734, 630, 846), (-0.53, 1.56), 0.65, (0, 10), [0, 2, 4, 6, 8, 10], 'sEPSC frequency (Hz)', t_freq_base, t_freq_tbp, BLA)
paired((663, 738, 730, 847), (-0.83, 1.48), 0.62, (0, 25), [0, 5, 10, 15, 20, 25], 'sEPSC amplitude (pA)', t_amp_base, t_amp_tbp, BLA)
pval(ov, 600, 756, '0.6613')
pval(ov, 697, 747, '0.6483')
circle(566, 867, 'k')
txt(575, 867, 'Baseline', fontsize=7.5, ha='left')
circle(629, 867, BLA)
txt(638, 867, 'tBP', fontsize=7.5, ha='left')

# ---------------- q ----------------
ax = trace_axes(23, 713, 135, 780, (-72, 5))
t, v = spike_trace(q_base_spikes, -65, (-56, -48), 10, 90, 850)
ax.plot(t, v, color='k', lw=0.7)
ax = trace_axes(23, 779, 135, 840, (-72, 5))
t, v = spike_trace(q_tbp_spikes, -68, (-46, -34), 8, 80, 850)
ax.plot(t, v, color=BLA, lw=0.7)
stim(23, 848, 135, 864, 90, 850)
scalebar(152, 845, 865, 167)
txt(140, 852, '20 mV', rotation=90, fontsize=7.5)
txt(163, 877, '100 ms', fontsize=7.5)
line_marker(55, 868, 'k')
txt(65, 868, 'Baseline', fontsize=7.5, ha='left')
line_marker(55, 882, BLA)
txt(65, 882, 'tBP (1 µM)', fontsize=7.5, ha='left')

# ---------------- r ----------------
iv_axes((203, 733, 323, 852), [(r_tbp, r_tbp_err, BLA), (r_base, r_base_err, 'k')])
line_marker(233, 775, 'k')
txt(243, 775, 'Baseline', fontsize=7.5, ha='left')
line_marker(233, 789, BLA)
txt(243, 789, 'tBP', fontsize=7.5, ha='left')
pval(ov, 315, 802, '0.7666')

# ---------------- s ----------------
txt(355, 740, 'Baseline', fontsize=7.5, ha='left')
noise(355, 512, 755, 0.8, s_base_t, s_base_a, 'k', lw=3)
txt(355, 798, 'tBP (1 µM)', fontsize=7.5, ha='left')
noise(355, 512, 812, 0.8, s_tbp_t, s_tbp_a, BLA, lw=3)
scalebar(497, 835, 851, 514, lw=1.2)
txt(493, 843, '20 pA', fontsize=7.5, ha='right')
txt(506, 860, '500 ms', fontsize=7.5)

# ---------------- u ----------------
ARC_U = '#1a8680'
iv_axes((63, 931, 182, 1050), [(r_base, r_base_err, BLA), (n_base, n_base_err, ARC_U), (u_lhb, u_lhb_err, LHB)], fs=7.5)
for y, c in [(980, LHB), (1000, ARC_U), (1022, BLA)]:
    ov.plot([207], [y], 'o', mfc='white', mec=c, ms=5.5, mew=1)
ov.plot([215, 218, 218, 215], [980, 980, 1000, 1000], 'k', lw=0.7)
pval(ov, 224, 987, '0.4460', rotation=90, fs=5.5)
ov.plot([215, 218, 218, 215], [1003, 1003, 1022, 1022], 'k', lw=0.7)
pval(ov, 224, 1020, '0.0191', color=RED, rotation=90, fs=5.5)
ov.plot([229, 232, 232, 229], [980, 980, 1023, 1023], 'k', lw=0.7)
pval(ov, 238, 1001, '0.0033', color=RED, rotation=90, fs=5.5)


# ---------------- v ----------------
def group_bars(box, xlim, ylim, yticks, ylabel, groups, colors, brackets):
    ax = px_axes(*box)
    means = [np.mean(v) for v in groups]
    sems = [np.std(v, ddof=1) / np.sqrt(len(v)) for v in groups]
    ax.bar(range(3), means, width=0.64, color='white', edgecolor='k', lw=1)
    ax.errorbar(range(3), means, yerr=sems, fmt='none', ecolor='k', capsize=2.5, lw=0.9)
    for i, v in enumerate(groups):
        xs = i + ((np.arange(len(v)) % 4) - 1.5) * 0.12
        ax.plot(xs, v, 'o', mfc='none', mec=colors[i], ms=4, mew=1, clip_on=False)
    for x1, x2, y, lab, c in brackets:
        bracket(ax, x1, x2, y, (ylim[1] - ylim[0]) * 0.03, lab, color=c)
    ax.set_xlim(*xlim)
    ax.set_ylim(*ylim)
    ax.set_yticks(yticks)
    ax.set_xticks([])
    ax.tick_params(labelsize=7.5)
    ax.set_ylabel(ylabel, fontsize=7.5)


v_colors = [LHB, ARC_U, BLA]
group_bars((293, 937, 392, 1050), (-0.99, 2.5), (0, 15), [0, 5, 10, 15], 'sEPSC frequency (Hz)',
           [v_lhb_freq, p_freq_base, t_freq_base], v_colors,
           [(0, 1, 13.6, '0.7061', 'k'), (0, 2, 15.4, '0.0508', 'k'), (1, 2, 17.2, '0.0192', RED)])
group_bars((455, 938, 545, 1051), (-0.71, 2.49), (0, 50), [0, 10, 20, 30, 40, 50], 'sEPSC amplitude (pA)',
           [v_lhb_amp, p_amp_base, t_amp_base], v_colors,
           [(0, 1, 48, '0.0880', 'k'), (0, 2, 54.5, '0.0101', RED), (1, 2, 61, '0.3037', 'k')])
for x, lab, c in [(270, 'LHb neurons', LHB), (341, 'Arc POMC neurons', ARC_U), (463, 'BLA pyramidal neurons', BLA)]:
    circle(x, 1071, c)
    txt(x + 8, 1071, lab, fontsize=7.5, ha='left')

fig.savefig('out.png', dpi=100)
